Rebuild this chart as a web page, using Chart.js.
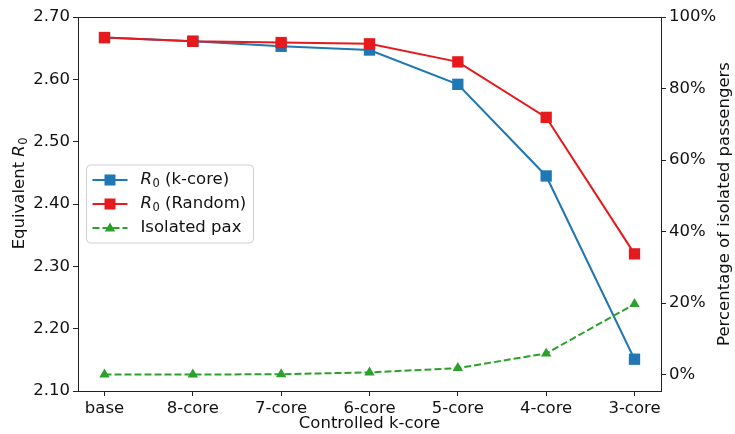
<!DOCTYPE html>
<html>
<head>
<meta charset="utf-8">
<script src="https://cdn.jsdelivr.net/npm/chart.js@4.4.0/dist/chart.umd.min.js"></script>
<style>
  html, body { margin: 0; padding: 0; background: #fff; }
  #wrap { width: 735px; height: 434px; }
</style>
</head>
<body>
<div id="wrap"><canvas id="chart" width="735" height="434"></canvas></div>
<script>
const categories = ['base', '8-core', '7-core', '6-core', '5-core', '4-core', '3-core'];
const r0Kcore = [2.667, 2.661, 2.653, 2.647, 2.592, 2.445, 2.151];
const r0Random = [2.667, 2.661, 2.659, 2.657, 2.628, 2.539, 2.320];
const isolatedPct = [0, 0, 0.1, 0.6, 1.8, 5.9, 19.7];
const leftTicks = [2.10, 2.20, 2.30, 2.40, 2.50, 2.60, 2.70];
const rightTicks = [0, 20, 40, 60, 80, 100];

const FONT = 'DejaVu Sans';
const FS = 16.5;
const TEXT = '#111';
const blue = '#1f77b4';
const red = '#e41a1c';
const green = '#2ca02c';

function toPoints(values) {
    return values.map((v, i) => ({ x: i, y: v }));
}

// draws "R" italic with a subscript 0, returns the width used
function drawR0(ctx, x, y, size) {
    ctx.font = 'italic ' + size + 'px "' + FONT + '"';
    ctx.fillText('R', x, y);
    let w = ctx.measureText('R').width;
    ctx.font = (size * 0.7).toFixed(1) + 'px "' + FONT + '"';
    ctx.fillText('0', x + w + 0.5, y + size * 0.22);
    w += ctx.measureText('0').width + 0.5;
    ctx.font = size + 'px "' + FONT + '"';
    return w;
}

const framePlugin = {
    id: 'frame',
    afterDatasetsDraw(chart) {
        const { ctx, chartArea: a } = chart;
        ctx.save();
        ctx.strokeStyle = '#222';
        ctx.lineWidth = 1;
        ctx.strokeRect(Math.round(a.left) + 0.5, Math.round(a.top) + 0.5,
            Math.round(a.right - a.left), Math.round(a.bottom - a.top));
        ctx.restore();
    }
};

const titlesPlugin = {
    id: 'titles',
    afterDraw(chart) {
        const { ctx, chartArea: a } = chart;
        ctx.save();
        ctx.fillStyle = TEXT;
        ctx.textBaseline = 'middle';

        // left title
        ctx.font = FS + 'px "' + FONT + '"';
        const base = 'Equivalent ';
        const wBase = ctx.measureText(base).width;
        const total = wBase + 16;
        ctx.save();
        ctx.translate(20, (a.top + a.bottom) / 2 - 9 + total / 2);
        ctx.rotate(-Math.PI / 2);
        ctx.textAlign = 'left';
        ctx.fillText(base, 0, 0);
        drawR0(ctx, wBase, 0, FS);
        ctx.restore();

        // right title
        ctx.save();
        ctx.font = FS + 'px "' + FONT + '"';
        ctx.translate(725, (a.top + a.bottom) / 2);
        ctx.rotate(-Math.PI / 2);
        ctx.textAlign = 'center';
        ctx.fillText('Percentage of isolated passengers', 0, 0);
        ctx.restore();

        ctx.restore();
    }
};

const legendPlugin = {
    id: 'customLegend',
    afterDraw(chart) {
        const { ctx, chartArea: a } = chart;
        const x = a.left + 8.5, w = 167, h = 78;
        const cy = (a.top + a.bottom) / 2;
        const y = cy - h / 2;
        ctx.save();
        ctx.beginPath();
        ctx.roundRect(x, y, w, h, 4);
        ctx.fillStyle = 'rgba(255,255,255,0.8)';
        ctx.fill();
        ctx.strokeStyle = '#d0d0d0';
        ctx.lineWidth = 1;
        ctx.stroke();

        const rows = [
            { color: blue, dash: [], marker: 'rect', label: ' (k-core)', r0: true },
            { color: red, dash: [], marker: 'rect', label: ' (Random)', r0: true },
            { color: green, dash: [7, 3], marker: 'triangle', label: 'Isolated pax', r0: false }
        ];
        rows.forEach((row, i) => {
            const ry = cy - 24 + i * 24;
            ctx.strokeStyle = row.color;
            ctx.lineWidth = 2;
            ctx.setLineDash(row.dash);
            ctx.beginPath();
            ctx.moveTo(x + 6, ry);
            ctx.lineTo(x + 41, ry);
            ctx.stroke();
            ctx.setLineDash([]);
            ctx.fillStyle = row.color;
            if (row.marker === 'rect') {
                ctx.fillRect(x + 23.5 - 5.5, ry - 5.5, 11, 11);
            } else {
                ctx.beginPath();
                ctx.moveTo(x + 23.5, ry - 5.5);
                ctx.lineTo(x + 23.5 + 5.2, ry + 3.5);
                ctx.lineTo(x + 23.5 - 5.2, ry + 3.5);
                ctx.closePath();
                ctx.fill();
            }
            ctx.fillStyle = TEXT;
            ctx.textBaseline = 'middle';
            ctx.textAlign = 'left';
            let tx = x + 54;
            ctx.font = FS + 'px "' + FONT + '"';
            if (row.r0) tx += drawR0(ctx, tx, ry, FS);
            ctx.font = FS + 'px "' + FONT + '"';
            ctx.fillText(row.label, tx, ry);
        });
        ctx.restore();
    }
};

const tickGrid = {
    drawOnChartArea: false,
    drawTicks: true,
    tickLength: 5,
    color: '#222',
    tickColor: '#222',
    tickWidth: 1
};

new Chart(document.getElementById('chart'), {
    type: 'line',
    data: {
        datasets: [
            {
                label: 'Isolated pax',
                data: toPoints(isolatedPct),
                yAxisID: 'y2',
                borderColor: green,
                backgroundColor: green,
                borderWidth: 2,
                borderDash: [7, 3],
                pointStyle: 'triangle',
                pointRadius: 6,
                pointBorderWidth: 0,
                order: 0
            },
            {
                label: 'R0 (Random)',
                data: toPoints(r0Random),
                yAxisID: 'y',
                borderColor: red,
                backgroundColor: red,
                borderWidth: 2,
                pointStyle: 'rect',
                pointRadius: 8,
                pointBorderWidth: 0,
                order: 1
            },
            {
                label: 'R0 (k-core)',
                data: toPoints(r0Kcore),
                yAxisID: 'y',
                borderColor: blue,
                backgroundColor: blue,
                borderWidth: 2,
                pointStyle: 'rect',
                pointRadius: 8,
                pointBorderWidth: 0,
                order: 2
            }
        ]
    },
    options: {
        responsive: false,
        animation: false,
        devicePixelRatio: 1,
        layout: { padding: { top: 17, left: 0, right: 0, bottom: 0 } },
        plugins: {
            legend: { display: false },
            tooltip: { enabled: false }
        },
        scales: {
            x: {
                type: 'linear',
                min: -0.3,
                max: 6.3,
                grid: tickGrid,
                border: { color: '#222', width: 1 },
                afterBuildTicks: (scale) => {
                    scale.ticks = categories.map((c, i) => ({ value: i }));
                },
                afterFit: (scale) => { scale.height = 43; },
                ticks: {
                    padding: 3,
                    color: TEXT,
                    font: { family: FONT, size: FS },
                    maxRotation: 0,
                    autoSkip: false,
                    callback: (v) => categories[v]
                },
                title: {
                    display: true,
                    text: 'Controlled k-core',
                    color: TEXT,
                    font: { family: FONT, size: FS },
                    padding: { top: 0, bottom: 0 }
                }
            },
            y: {
                position: 'left',
                min: 2.10,
                max: 2.70,
                grid: tickGrid,
                border: { color: '#222', width: 1 },
                afterBuildTicks: (scale) => {
                    scale.ticks = leftTicks.map((v) => ({ value: v }));
                },
                afterFit: (scale) => { scale.width = 78; },
                ticks: {
                    padding: 3,
                    color: TEXT,
                    font: { family: FONT, size: FS },
                    callback: (v) => v.toFixed(2)
                }
            },
            y2: {
                position: 'right',
                min: -4.6,
                max: 100,
                grid: tickGrid,
                border: { color: '#222', width: 1 },
                afterBuildTicks: (scale) => {
                    scale.ticks = rightTicks.map((v) => ({ value: v }));
                },
                afterFit: (scale) => { scale.width = 74; },
                ticks: {
                    padding: 3,
                    color: TEXT,
                    font: { family: FONT, size: FS },
                    callback: (v) => v + '%'
                }
            }
        }
    },
    plugins: [framePlugin, titlesPlugin, legendPlugin]
});
</script>
</body>
</html>
